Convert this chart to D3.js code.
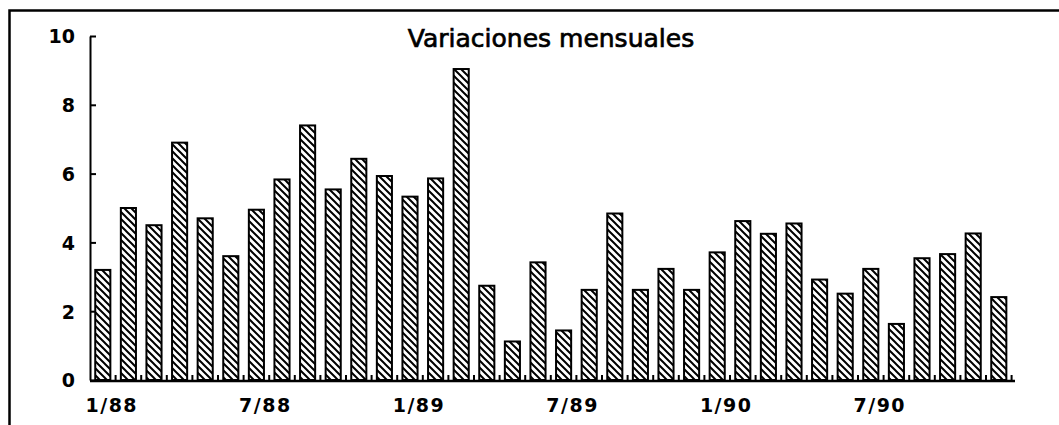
<!DOCTYPE html>
<html lang="es">
<head>
    <meta charset="UTF-8">
    <title>Variaciones mensuales</title>
    <script src="https://d3js.org/d3.v7.min.js"></script>
    <style>
        body { margin: 0; background: #fff; }
        svg { display: block; }
        .title { font-family: "DejaVu Sans", sans-serif; font-size: 25px; stroke: #000; stroke-width: 0.7px; }
        .lbl { font-family: "DejaVu Sans", sans-serif; font-size: 19px; font-weight: bold; }
    </style>
</head>
<body>
    <svg width="1059" height="425"></svg>
    <script>
        // months 1/88 .. 12/90
        const months = [
            "1/88","2/88","3/88","4/88","5/88","6/88","7/88","8/88","9/88","10/88","11/88","12/88",
            "1/89","2/89","3/89","4/89","5/89","6/89","7/89","8/89","9/89","10/89","11/89","12/89",
            "1/90","2/90","3/90","4/90","5/90","6/90","7/90","8/90","9/90","10/90","11/90","12/90"
        ];
        const values = [
            3.2, 5.0, 4.5, 6.9, 4.7, 3.6, 4.95, 5.83, 7.4, 5.54, 6.43, 5.93,
            5.33, 5.86, 9.04, 2.74, 1.12, 3.42, 1.44, 2.62, 4.84, 2.62, 3.23, 2.62,
            3.71, 4.62, 4.25, 4.55, 2.92, 2.51, 3.23, 1.63, 3.54, 3.66, 4.26, 2.41
        ];
        const xLabels = ["1/88", "7/88", "1/89", "7/89", "1/90", "7/90"];
        const yTicks = [0, 2, 4, 6, 8, 10];
        const title = "Variaciones mensuales";

        const svg = d3.select("svg");

        // hatch fill
        const pat = svg.append("defs").append("pattern")
            .attr("id", "hatch")
            .attr("patternUnits", "userSpaceOnUse")
            .attr("width", 7).attr("height", 7);
        pat.append("rect").attr("width", 7).attr("height", 7).attr("fill", "#fff");
        pat.append("path")
            .attr("d", "M0,0L7,7M-1,6L1,8M6,-1L8,1")
            .attr("stroke", "#000").attr("stroke-width", 2);

        // outer frame (top and left only)
        svg.append("path")
            .attr("d", "M9.5,425V10.5H1059")
            .attr("fill", "none").attr("stroke", "#000").attr("stroke-width", 2.5);

        const x = d3.scaleBand()
            .domain(months)
            .range([90, 90 + 36 * 25.6])
            .paddingInner(0.41)
            .paddingOuter(0.205);
        const y = d3.scaleLinear().domain([0, 10]).range([380, 36]);

        // y axis
        const yAxis = svg.append("g")
            .attr("transform", "translate(90,0)")
            .call(d3.axisLeft(y).tickValues(yTicks).tickSizeInner(-6).tickSizeOuter(0).tickPadding(15));
        yAxis.select(".domain").attr("stroke-width", 2);
        yAxis.selectAll(".tick line").attr("stroke-width", 2);
        yAxis.selectAll(".tick text").attr("class", "lbl").attr("fill", "#000").attr("dy", "0.36em");

        // bars
        svg.append("g").selectAll("rect")
            .data(values)
            .join("rect")
            .attr("x", (d, i) => x(months[i]))
            .attr("y", d => y(d))
            .attr("width", x.bandwidth())
            .attr("height", d => y(0) - y(d))
            .attr("fill", "url(#hatch)")
            .attr("stroke", "#000")
            .attr("stroke-width", 2);

        // x axis line and small ticks between bars
        const step = x.step();
        svg.append("line")
            .attr("x1", 90).attr("x2", 1015)
            .attr("y1", y(0) + 1).attr("y2", y(0) + 1)
            .attr("stroke", "#000").attr("stroke-width", 2.5);
        svg.append("g").selectAll("line")
            .data(months)
            .join("line")
            .attr("x1", d => x(d) + x.bandwidth() + (step - x.bandwidth()) / 2)
            .attr("x2", d => x(d) + x.bandwidth() + (step - x.bandwidth()) / 2)
            .attr("y1", y(0))
            .attr("y2", y(0) - 5)
            .attr("stroke", "#000").attr("stroke-width", 2);

        svg.append("g").selectAll("text")
            .data(xLabels)
            .join("text")
            .attr("class", "lbl")
            .attr("x", d => x(d) + x.bandwidth() / 2 + 9)
            .attr("y", 412)
            .attr("text-anchor", "middle")
            .attr("letter-spacing", "1.5px")
            .text(d => d);

        svg.append("text")
            .attr("class", "title")
            .attr("x", 551)
            .attr("y", 47)
            .attr("text-anchor", "middle")
            .text(title);
    </script>
</body>
</html>
